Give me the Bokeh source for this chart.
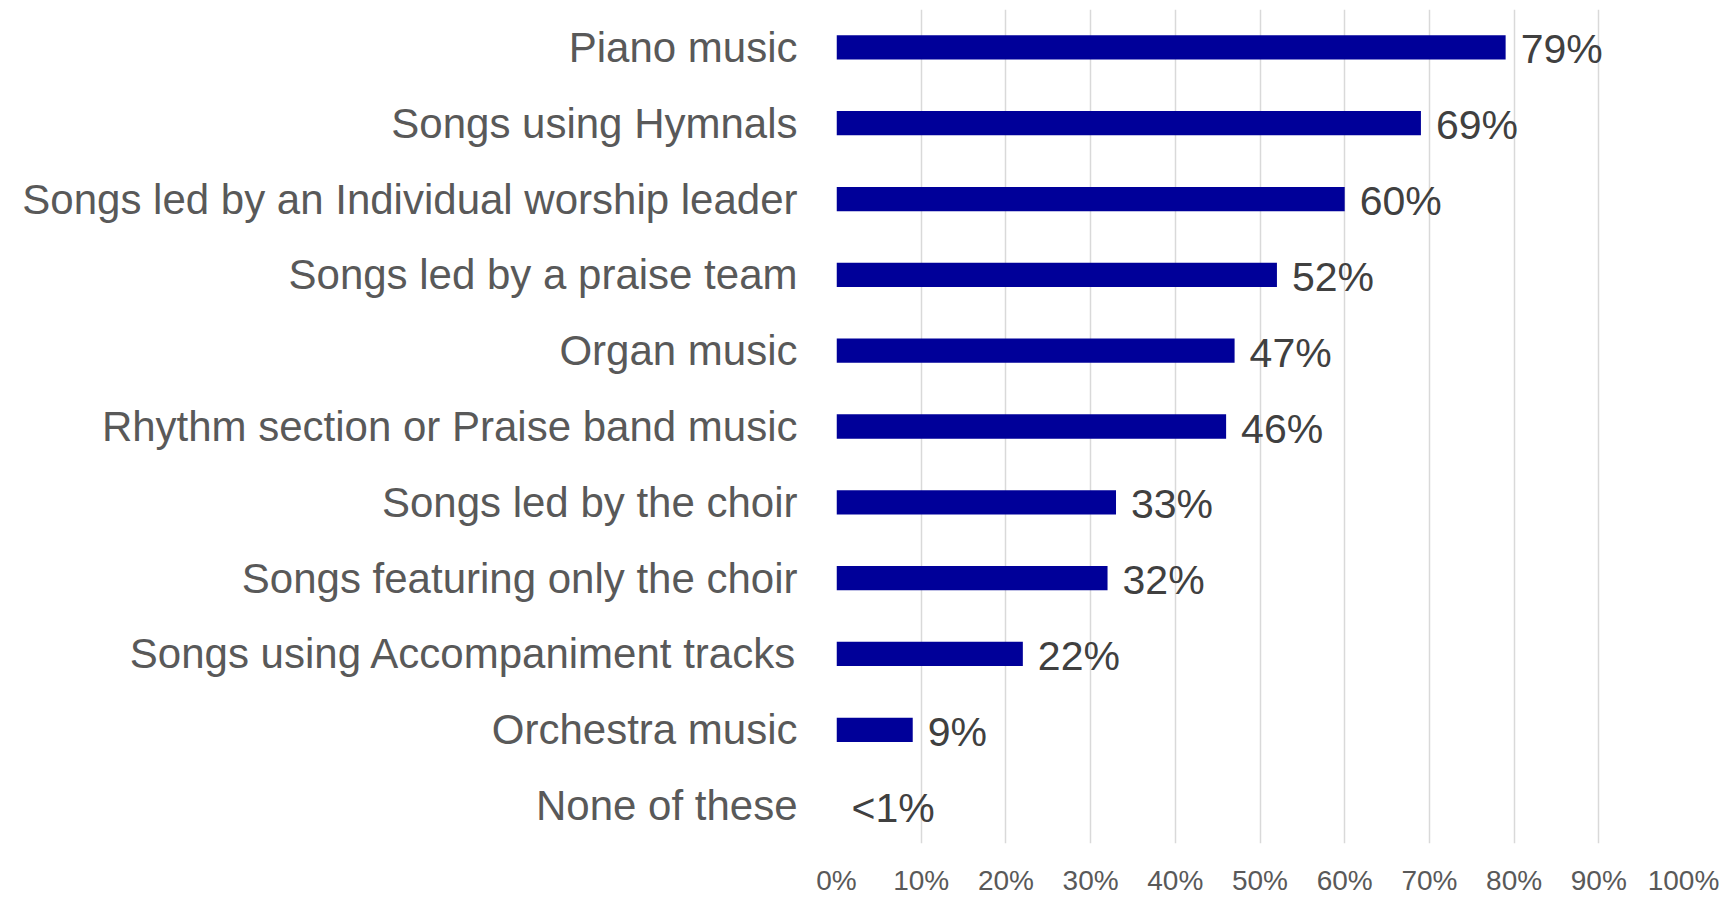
from bokeh.plotting import figure
from bokeh.models import ColumnDataSource, FactorRange, Range1d, FixedTicker, NumeralTickFormatter
from bokeh.core.properties import value
from bokeh.embed import file_html
from bokeh.resources import INLINE

categories = [
    "Piano music",
    "Songs using Hymnals",
    "Songs led by an Individual worship leader",
    "Songs led by a praise team",
    "Organ music",
    "Rhythm section or Praise band music",
    "Songs led by the choir",
    "Songs featuring only the choir",
    "Songs using Accompaniment tracks",
    "Orchestra music",
    "None of these",
]
percent_values = [79, 69, 60, 52, 47, 46, 33, 32, 22, 9, 0]
value_labels = ["79%", "69%", "60%", "52%", "47%", "46%", "33%", "32%", "22%", "9%", "<1%"]
x_ticks = [0, 0.1, 0.2, 0.3, 0.4, 0.5, 0.6, 0.7, 0.8, 0.9, 1.0]

FONT = "Liberation Sans"

source = ColumnDataSource(data=dict(
    cat=categories,
    val=[v / 100 for v in percent_values],
    lab=value_labels,
))

p = figure(
    width=1719, height=898,
    y_range=FactorRange(factors=list(reversed(categories))),
    x_range=Range1d(0, 1),
    output_backend="svg", toolbar_location=None,
    min_border_left=836, min_border_right=36, min_border_top=9, min_border_bottom=0,
)

p.hbar(y="cat", right="val", left=0, height=0.32, source=source,
       fill_color="#000099", line_color=None)

p.text(x="val", y="cat", text="lab", source=source,
       x_offset=15, y_offset=2,
       text_font=value(FONT), text_font_size="41px",
       text_color="#404040", text_baseline="middle", text_align="left")

p.outline_line_color = None
p.ygrid.grid_line_color = None
p.xgrid.grid_line_color = "#d9d9d9"
p.xgrid.grid_line_width = 1.5

p.xaxis.ticker = FixedTicker(ticks=x_ticks)
p.xaxis.formatter = NumeralTickFormatter(format="0%")
p.xaxis.axis_line_color = None
p.xaxis.major_tick_line_color = None
p.xaxis.minor_tick_line_color = None
p.xaxis.major_label_text_font = FONT
p.xaxis.major_label_text_font_size = "28px"
p.xaxis.major_label_text_color = "#595959"
p.xaxis.major_label_standoff = 15

p.yaxis.axis_line_color = None
p.yaxis.major_tick_line_color = None
p.yaxis.minor_tick_line_color = None
p.yaxis.major_label_text_font = FONT
p.yaxis.major_label_text_font_size = "42px"
p.yaxis.major_label_text_color = "#595959"
p.yaxis.major_label_standoff = 33

open("out.html", "w").write(file_html(p, INLINE))
